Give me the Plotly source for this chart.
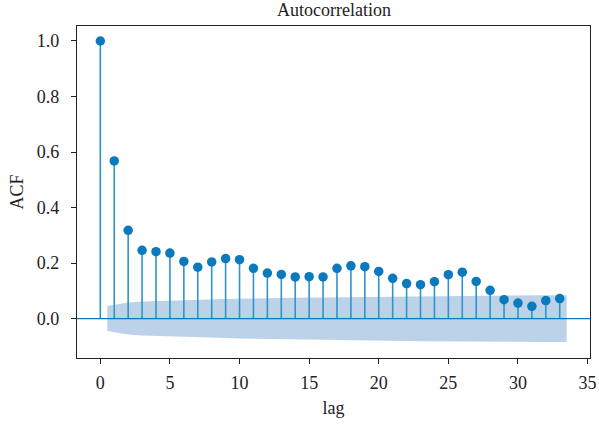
import plotly.graph_objects as go

# Sample autocorrelation by lag
lags = list(range(34))
acf = [1.0, 0.568, 0.318, 0.246, 0.241, 0.236, 0.206, 0.185, 0.204, 0.216,
       0.212, 0.181, 0.164, 0.159, 0.150, 0.151, 0.150, 0.181, 0.190, 0.187,
       0.170, 0.145, 0.126, 0.122, 0.133, 0.158, 0.167, 0.134, 0.102, 0.068,
       0.056, 0.044, 0.065, 0.072]

# Half-width of the 95% confidence band for lags 1..33
band_lags = [0.5] + list(range(2, 33)) + [33.5]
band_half = [0.0450, 0.0577, 0.0612, 0.0631, 0.0650, 0.0667, 0.0680, 0.0690,
             0.0702, 0.0715, 0.0728, 0.0737, 0.0744, 0.0751, 0.0757, 0.0763,
             0.0769, 0.0778, 0.0787, 0.0796, 0.0803, 0.0809, 0.0813, 0.0816,
             0.0821, 0.0827, 0.0834, 0.0838, 0.0841, 0.0842, 0.0842, 0.0843,
             0.0844]

x_ticks = [0, 5, 10, 15, 20, 25, 30, 35]
y_ticks = [0.0, 0.2, 0.4, 0.6, 0.8, 1.0]

MARK = "#0a79bd"
STEM = "#2f93cc"
BAND = "#bcd2e9"
FONT = "Liberation Serif"
INK = "#222"

fig = go.Figure()

# confidence band
fig.add_trace(go.Scatter(
    x=band_lags + band_lags[::-1],
    y=band_half + [-v for v in band_half[::-1]],
    fill="toself", fillcolor=BAND, line=dict(width=0),
    mode="lines", hoverinfo="skip", showlegend=False))

# zero line
fig.add_hline(y=0, line=dict(color=MARK, width=1.3), layer="above")

# stems
sx, sy = [], []
for lag, v in zip(lags, acf):
    sx += [lag, lag, None]
    sy += [0, v, None]
fig.add_trace(go.Scatter(x=sx, y=sy, mode="lines",
                         line=dict(color=STEM, width=1.6),
                         hoverinfo="skip", showlegend=False))

# markers
fig.add_trace(go.Scatter(x=lags, y=acf, mode="markers",
                         marker=dict(color=MARK, size=9.5, line=dict(width=0)),
                         showlegend=False))

axis_common = dict(
    showline=True, linecolor=INK, linewidth=1.2, mirror=True,
    ticks="outside", ticklen=5, tickwidth=1.2, tickcolor=INK,
    showgrid=False, zeroline=False, automargin=False,
    tickfont=dict(family=FONT, size=18, color=INK),
)

fig.update_xaxes(range=[-1.675, 35.175], tickvals=x_ticks,
                 ticklabelstandoff=3,
                 title=dict(text="lag", font=dict(family=FONT, size=18, color=INK), standoff=9),
                 **axis_common)
fig.update_yaxes(range=[-0.142, 1.054], tickvals=y_ticks,
                 ticktext=[f"{v:.1f}" for v in y_ticks],
                 ticklabelstandoff=8,
                 title=dict(text="ACF", font=dict(family=FONT, size=18, color=INK), standoff=8),
                 **axis_common)

fig.add_annotation(text="Autocorrelation", xref="paper", yref="paper",
                   x=0.5, y=1.0, xanchor="center", yanchor="bottom", yshift=4,
                   showarrow=False, font=dict(family=FONT, size=18, color=INK))

fig.update_layout(
    width=599, height=424,
    margin=dict(l=77, r=9, t=26, b=66),
    plot_bgcolor="white", paper_bgcolor="white",
)

fig.write_html("out.html")
